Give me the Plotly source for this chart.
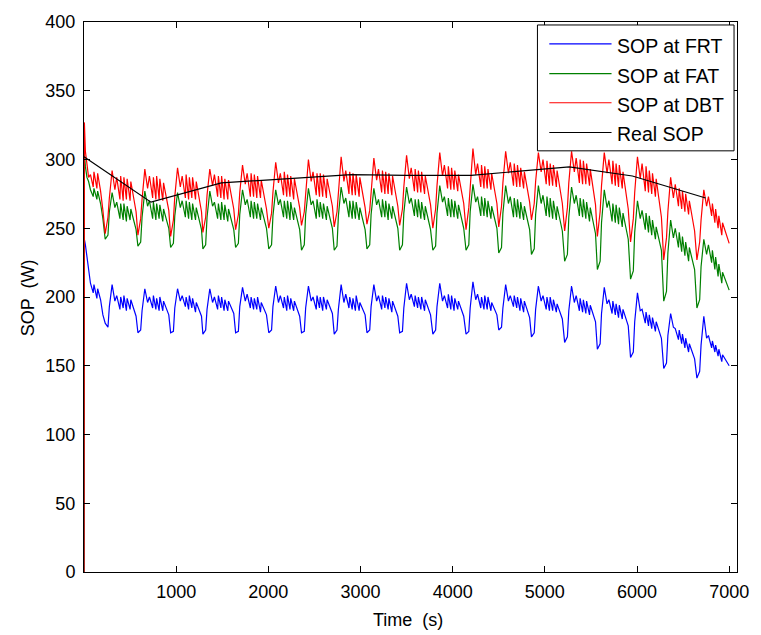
import plotly.graph_objects as go

# Sample times (s): start-up segment, then one row per discharge cycle
time_s = [
    0, 4, 15, 32, 50, 70, 100, 108, 140, 148, 180, 205,
    230, 260, 275, 305, 335, 355, 390, 398, 425, 433, 460, 468, 500, 508, 565,
    585, 615, 630, 660, 690, 710, 745, 753, 780, 788, 815, 823, 855, 863, 920,
    940, 970, 985, 1015, 1045, 1065, 1100, 1108, 1135, 1143, 1170, 1178, 1210, 1218, 1275,
    1290, 1320, 1335, 1365, 1395, 1415, 1450, 1458, 1485, 1493, 1520, 1528, 1560, 1568, 1625,
    1645, 1675, 1690, 1720, 1750, 1770, 1805, 1813, 1840, 1848, 1875, 1883, 1915, 1923, 1980,
    2005, 2035, 2050, 2080, 2110, 2130, 2165, 2173, 2200, 2208, 2235, 2243, 2275, 2283, 2340,
    2360, 2390, 2405, 2435, 2465, 2485, 2520, 2528, 2555, 2563, 2590, 2598, 2630, 2638, 2695,
    2715, 2745, 2760, 2790, 2820, 2840, 2875, 2883, 2910, 2918, 2945, 2953, 2985, 2993, 3050,
    3070, 3100, 3115, 3145, 3175, 3195, 3230, 3238, 3265, 3273, 3300, 3308, 3340, 3348, 3405,
    3425, 3455, 3470, 3500, 3530, 3550, 3585, 3593, 3620, 3628, 3655, 3663, 3695, 3703, 3760,
    3785, 3815, 3830, 3860, 3890, 3910, 3945, 3953, 3980, 3988, 4015, 4023, 4055, 4063, 4120,
    4145, 4175, 4190, 4220, 4250, 4270, 4305, 4313, 4340, 4348, 4375, 4383, 4415, 4423, 4480,
    4500, 4530, 4545, 4575, 4605, 4625, 4660, 4668, 4695, 4703, 4730, 4738, 4770, 4778, 4835,
    4855, 4885, 4900, 4930, 4960, 4980, 5015, 5023, 5050, 5058, 5085, 5093, 5125, 5133, 5190,
    5215, 5245, 5260, 5290, 5320, 5340, 5375, 5383, 5410, 5418, 5445, 5453, 5485, 5493, 5550,
    5570, 5600, 5615, 5645, 5675, 5695, 5730, 5738, 5765, 5773, 5800, 5808, 5840, 5848, 5905,
    5930, 5960, 5975, 6005, 6035, 6055, 6090, 6098, 6125, 6133, 6160, 6168, 6200, 6208, 6265,
    6290, 6320, 6335, 6365, 6395, 6415, 6450, 6458, 6485, 6493, 6520, 6528, 6560, 6568, 6625,
    6650, 6680, 6695, 6725, 6755, 6775, 6810, 6818, 6845, 6853, 6880, 6888, 6920, 6928, 7000,
]

# SOP estimated at FRT (W)
sop_frt = [
    0, 242, 238, 229, 218, 210, 203, 209, 199, 206, 198, 187,
    181, 178, 193, 209, 197, 201, 191, 200, 192, 201, 190, 199, 191, 198, 186,
    174, 176, 190, 206, 196, 200, 192, 201, 191, 199, 190, 200, 190, 197, 187,
    174, 175, 192, 206, 197, 201, 193, 200, 191, 201, 192, 199, 189, 196, 186,
    173, 176, 191, 206, 196, 200, 191, 201, 192, 200, 190, 198, 190, 197, 188,
    174, 175, 193, 207, 197, 202, 192, 200, 191, 199, 191, 200, 189, 196, 187,
    174, 176, 193, 208, 196, 201, 192, 200, 190, 201, 191, 199, 190, 197, 186,
    174, 175, 192, 208, 197, 200, 191, 201, 192, 200, 190, 200, 191, 198, 188,
    173, 176, 191, 209, 196, 202, 192, 200, 191, 199, 190, 201, 190, 196, 187,
    174, 176, 193, 209, 197, 201, 191, 201, 192, 200, 191, 199, 189, 197, 186,
    174, 175, 192, 210, 198, 202, 193, 201, 192, 200, 191, 200, 190, 198, 187,
    173, 176, 193, 210, 197, 201, 192, 202, 191, 201, 190, 199, 191, 197, 186,
    173, 175, 192, 211, 198, 202, 192, 200, 191, 201, 191, 200, 190, 196, 187,
    176, 178, 192, 209, 197, 201, 193, 201, 192, 200, 190, 199, 189, 197, 185,
    171, 174, 191, 208, 197, 201, 191, 200, 190, 200, 190, 198, 189, 195, 184,
    167, 171, 190, 208, 196, 201, 190, 199, 189, 198, 188, 197, 187, 194, 182,
    162, 166, 188, 207, 195, 198, 188, 197, 187, 195, 185, 194, 184, 191, 179,
    156, 160, 182, 203, 190, 191, 181, 189, 179, 187, 177, 185, 175, 182, 170,
    148, 152, 172, 188, 178, 177, 169, 176, 166, 173, 163, 170, 160, 166, 155,
    141, 146, 165, 186, 170, 172, 163, 168, 160, 165, 157, 162, 153, 158, 150,
]

# SOP estimated at FAT (W)
sop_fat = [
    0, 305, 295, 287, 284, 278, 273, 279, 271, 277, 268, 257,
    242, 245, 262, 276, 265, 269, 257, 268, 256, 268, 255, 266, 256, 264, 249,
    237, 240, 258, 277, 266, 270, 257, 269, 256, 268, 257, 267, 255, 264, 250,
    236, 239, 259, 276, 265, 270, 258, 270, 257, 269, 256, 268, 256, 265, 249,
    235, 238, 258, 277, 266, 269, 257, 268, 256, 269, 256, 267, 255, 264, 249,
    236, 239, 260, 278, 267, 271, 258, 270, 257, 269, 257, 268, 256, 265, 250,
    235, 238, 259, 278, 267, 271, 258, 270, 257, 270, 256, 269, 256, 265, 249,
    234, 238, 260, 279, 267, 270, 257, 271, 258, 269, 257, 268, 256, 266, 250,
    234, 237, 259, 280, 268, 272, 258, 270, 257, 270, 257, 269, 256, 265, 249,
    235, 238, 260, 279, 267, 271, 258, 271, 258, 270, 256, 268, 257, 266, 250,
    234, 238, 261, 280, 268, 272, 259, 271, 258, 271, 257, 269, 256, 266, 249,
    234, 237, 261, 281, 269, 273, 259, 272, 258, 271, 258, 270, 257, 267, 250,
    234, 238, 262, 282, 269, 273, 259, 273, 259, 272, 258, 270, 257, 266, 250,
    232, 236, 261, 281, 268, 273, 258, 272, 258, 271, 257, 269, 256, 266, 249,
    231, 235, 260, 281, 268, 274, 259, 273, 258, 272, 257, 270, 256, 266, 248,
    226, 231, 258, 280, 268, 274, 259, 272, 258, 271, 257, 269, 255, 265, 246,
    220, 226, 254, 278, 265, 270, 255, 268, 254, 267, 253, 265, 251, 261, 242,
    213, 219, 247, 270, 257, 263, 249, 261, 247, 259, 245, 256, 242, 251, 234,
    197, 204, 232, 256, 243, 250, 236, 247, 233, 244, 230, 240, 226, 236, 220,
    192, 198, 222, 242, 231, 238, 225, 234, 220, 229, 215, 224, 210, 218, 205,
]

# SOP estimated at DBT (W)
sop_dbt = [
    0, 327, 306, 296, 287, 289, 280, 291, 279, 290, 277, 263,
    246, 258, 272, 292, 278, 287, 271, 288, 270, 287, 271, 286, 270, 284, 262,
    245, 257, 271, 293, 279, 288, 272, 287, 271, 288, 271, 286, 270, 283, 263,
    244, 256, 273, 294, 280, 288, 272, 289, 271, 287, 272, 287, 271, 284, 262,
    247, 258, 274, 293, 281, 289, 273, 288, 272, 288, 271, 286, 271, 285, 264,
    249, 260, 276, 296, 282, 290, 273, 290, 273, 289, 272, 288, 272, 285, 264,
    250, 261, 276, 298, 283, 290, 274, 291, 273, 289, 273, 288, 271, 286, 265,
    252, 262, 277, 300, 284, 291, 274, 290, 273, 290, 273, 289, 272, 286, 266,
    251, 262, 278, 302, 284, 292, 275, 291, 274, 290, 274, 289, 273, 287, 265,
    253, 263, 278, 301, 285, 293, 276, 292, 275, 291, 275, 290, 274, 288, 266,
    252, 264, 280, 303, 286, 294, 277, 293, 276, 292, 276, 291, 275, 288, 267,
    250, 264, 281, 305, 288, 296, 279, 295, 278, 294, 278, 292, 277, 289, 268,
    249, 265, 282, 308, 289, 297, 280, 296, 279, 295, 279, 293, 278, 290, 268,
    251, 266, 283, 306, 290, 298, 281, 297, 280, 296, 280, 294, 279, 291, 269,
    256, 268, 284, 305, 291, 300, 282, 299, 281, 297, 281, 296, 280, 292, 268,
    248, 265, 283, 306, 291, 301, 283, 300, 282, 299, 282, 297, 281, 293, 267,
    244, 262, 281, 305, 290, 300, 282, 299, 281, 297, 280, 296, 279, 291, 264,
    240, 257, 276, 302, 286, 297, 277, 295, 276, 292, 275, 290, 273, 286, 258,
    227, 243, 262, 287, 272, 282, 266, 279, 264, 277, 262, 275, 260, 270, 248,
    227, 240, 256, 278, 266, 273, 259, 268, 254, 264, 250, 259, 245, 254, 239,
]

# Measured (real) SOP at the test points
real_time_s = [0, 727, 1490, 2900, 3500, 4200, 5265, 5950, 6745]
real_sop = [302, 269, 283, 289, 288.5, 288.5, 294.6, 288, 272]

x_ticks = [1000, 2000, 3000, 4000, 5000, 6000, 7000]
y_ticks = [0, 50, 100, 150, 200, 250, 300, 350, 400]

assert len(time_s) == len(sop_frt) == len(sop_fat) == len(sop_dbt)

series = [
    ("SOP at FRT", time_s, sop_frt, "#0000ff"),
    ("SOP at FAT", time_s, sop_fat, "#008000"),
    ("SOP at DBT", time_s, sop_dbt, "#ff0000"),
    ("Real SOP", real_time_s, real_sop, "#000000"),
]

FONT = "Liberation Sans, Arial, sans-serif"
W, H = 761, 635
L, R, T, B = 84, 16, 17, 63
plot_w = W - L - R
plot_h = H - T - B


def px_x(p):
    return (p - L) / plot_w


def px_y(p):
    return (H - B - p) / plot_h


fig = go.Figure()
for name, xs, ys, color in series:
    fig.add_trace(go.Scatter(
        x=xs, y=ys, mode="lines", name=name,
        line=dict(color=color, width=1.2),
        showlegend=False,
    ))

axis_common = dict(
    showline=True, linecolor="black", linewidth=1, mirror="ticks",
    ticks="inside", ticklen=6, tickcolor="black", tickwidth=1,
    showgrid=False, zeroline=False,
    tickfont=dict(family=FONT, size=18, color="black"),
)
fig.update_xaxes(range=[0, 7085], tickvals=x_ticks, ticklabelstandoff=3, **axis_common)
fig.update_yaxes(range=[0, 400], tickvals=y_ticks, ticklabelstandoff=4, **axis_common)

# Legend box drawn in the top-right corner of the axes
shapes = [dict(
    type="rect", xref="paper", yref="paper",
    x0=px_x(543), x1=px_x(742), y0=px_y(147), y1=px_y(20),
    line=dict(color="black", width=1), fillcolor="white", layer="above",
)]
annotations = []
row_y = [39, 69, 98.5, 128.5]
for (name, _, _, color), yy in zip(series, row_y):
    shapes.append(dict(
        type="line", xref="paper", yref="paper",
        x0=px_x(555), x1=px_x(618), y0=px_y(yy), y1=px_y(yy),
        line=dict(color=color, width=1.2), layer="above",
    ))
    annotations.append(dict(
        xref="paper", yref="paper", x=px_x(622), y=px_y(yy + 2),
        xanchor="left", yanchor="middle", showarrow=False,
        text=name, font=dict(family=FONT, size=19.5, color="black"),
    ))

# Axis titles
annotations.append(dict(
    xref="paper", yref="paper", x=px_x(412), y=px_y(620),
    xanchor="center", yanchor="middle", showarrow=False,
    text="Time \u00a0(s)", font=dict(family=FONT, size=18, color="black"),
))
annotations.append(dict(
    xref="paper", yref="paper", x=px_x(28), y=px_y(295),
    xanchor="center", yanchor="middle", showarrow=False, textangle=-90,
    text="SOP \u00a0(W)", font=dict(family=FONT, size=18, color="black"),
))

fig.update_layout(
    width=W, height=H,
    margin=dict(l=L, r=R, t=T, b=B, pad=0),
    paper_bgcolor="white", plot_bgcolor="white",
    shapes=shapes, annotations=annotations,
    showlegend=False,
)

fig.write_html("out.html")
